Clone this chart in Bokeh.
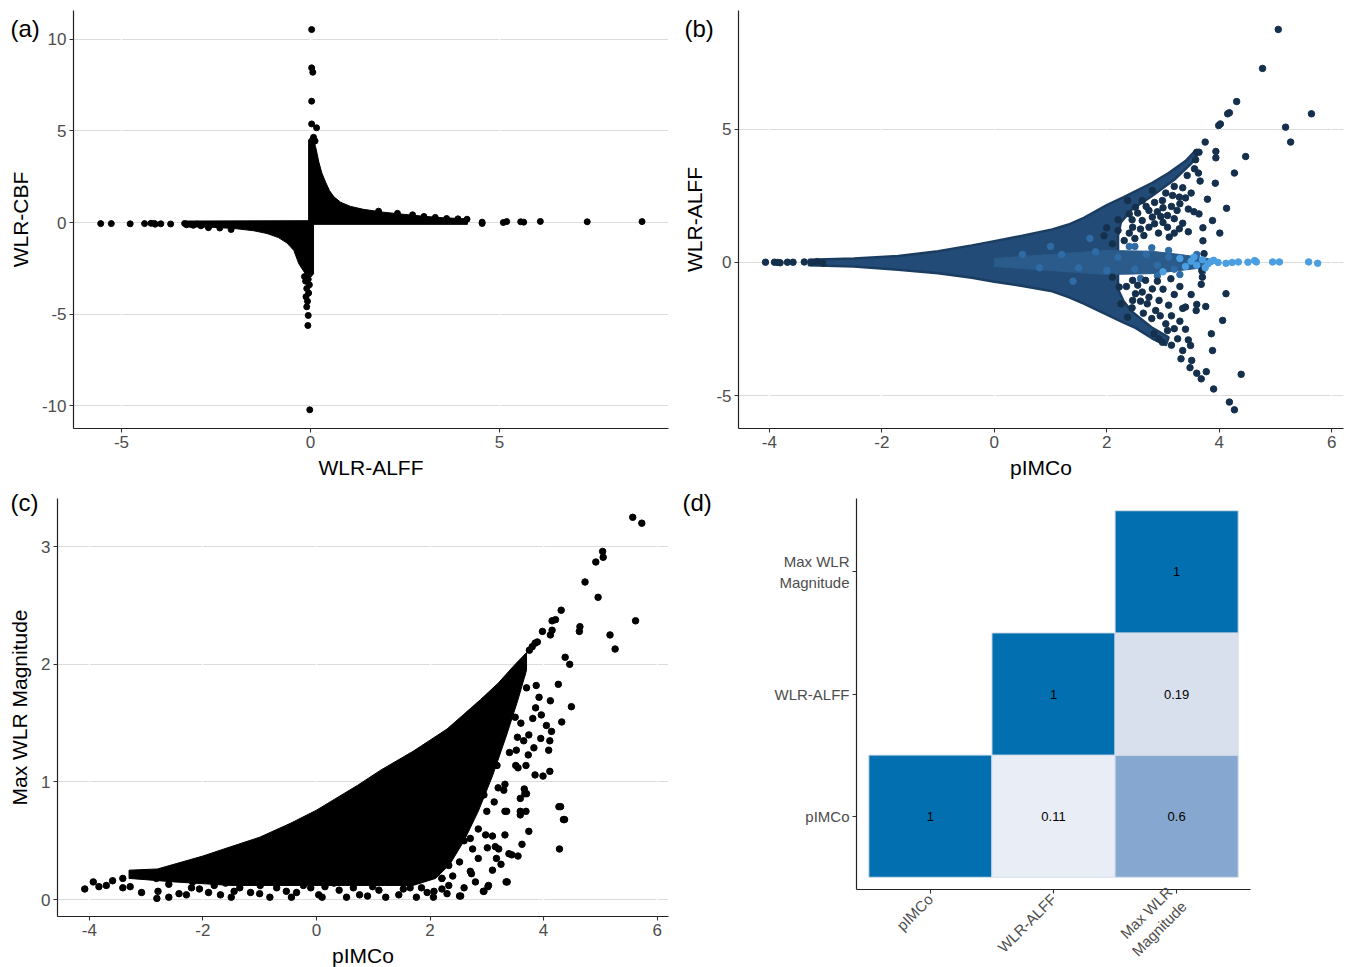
import math
from bokeh.plotting import figure
from bokeh.layouts import column, row
from bokeh.models import (Range1d, FixedTicker, Title, LinearColorMapper, ColumnDataSource,
                          CustomJSTickFormatter)
from bokeh.transform import transform
from bokeh.core.properties import value
from bokeh.embed import file_html
from bokeh.resources import INLINE

FONT = "Liberation Sans"
TICK_COLOR = "#4d4d4d"

# ---------------- data: panel (a) WLR-ALFF vs WLR-CBF ----------------
A_XTICKS = [-5, 0, 5]
A_YTICKS = [-10, -5, 0, 5, 10]
# envelope of the dense cloud (visual extent)
A_UP_X = [-0.05, -0.05, 0.05, 0.15, 0.22, 0.30, 0.40, 0.50, 0.62, 0.80, 1.06, 1.40, 1.94, 2.50, 3.00, 3.50, 4.15, 4.15]
A_UP_Y = [-0.10, 4.50, 4.75, 4.00, 3.30, 2.70, 2.20, 1.75, 1.40, 1.10, 0.88, 0.72, 0.56, 0.44, 0.34, 0.26, 0.20, -0.10]
A_LO_X = [0.08, 0.08, 0.00, -0.10, -0.20, -0.31, -0.44, -0.62, -0.85, -1.15, -1.50, -2.00, -2.50, -2.90, -3.30, -3.30]
A_LO_Y = [0.10, -2.80, -3.00, -2.90, -2.60, -2.25, -1.53, -1.12, -0.82, -0.60, -0.45, -0.33, -0.27, -0.24, -0.20, 0.08]
A_PTS = [(0.03, 10.53), (0.03, 8.44), (0.06, 8.20), (0.03, 6.62), (0.03, 5.38), (0.16, 5.17), (0.08, 4.65),
         (0.05, 4.35), (0.12, 4.45),
         (-0.06, -5.07), (-0.07, -5.62), (-0.02, -10.22), (-0.10, -4.60), (-0.08, -4.30), (-0.12, -4.05),
         (-0.05, -3.85), (-0.10, -3.60), (-0.03, -3.40), (-0.13, -3.20), (-0.06, -3.10), (-0.16, -2.95),
         (-5.55, -0.06), (-5.27, -0.06), (-4.77, -0.07), (-4.39, -0.06), (-4.22, -0.04), (-4.13, -0.05),
         (-4.11, -0.09), (-3.96, -0.07), (-3.70, -0.08), (-3.33, -0.05), (-3.28, -0.12), (-3.18, -0.10),
         (-3.10, -0.15), (-3.00, -0.08), (-2.90, -0.18), (-2.70, -0.28), (-2.40, -0.30), (-2.10, -0.38),
         (4.14, 0.18), (4.54, 0.02), (4.54, -0.05), (5.10, 0.00), (5.19, 0.05), (5.56, 0.04), (5.64, 0.02),
         (6.08, 0.06), (7.32, 0.04), (8.77, 0.05), (3.90, 0.20), (3.60, 0.22), (3.30, 0.28), (3.00, 0.33),
         (2.70, 0.42), (2.30, 0.50), (1.80, 0.62)]

# ---------------- data: panel (b) pIMCo vs WLR-ALFF ----------------
B_XTICKS = [-4, -2, 0, 2, 4, 6]
B_YTICKS = [-5, 0, 5]
# outline of the dense fan (outer edges plus the sparser notch on its right)
B_FAN_X = [-3.30, -2.50, -1.71, -1.00, -0.40, 0.00, 0.50, 1.03, 1.32, 1.60, 2.00, 2.30, 2.81, 3.10, 3.40,
           3.58, 3.65, 3.50, 3.20, 2.81, 2.45, 2.25, 2.20, 2.20, 2.30, 2.45, 2.81, 3.10, 3.05, 2.81, 2.51,
           2.30, 2.00, 1.60, 1.32, 1.03, 0.50, 0.00, -0.40, -1.00, -1.71, -2.50, -3.30]
B_FAN_Y = [0.10, 0.15, 0.24, 0.42, 0.64, 0.80, 1.00, 1.24, 1.42, 1.68, 2.15, 2.45, 2.98, 3.35, 3.80,
           4.20, 4.15, 3.70, 3.10, 2.50, 2.00, 1.50, 1.00, -1.00, -1.45, -1.85, -2.45, -2.80, -3.10, -2.85, -2.45,
           -2.25, -1.95, -1.55, -1.30, -1.08, -0.88, -0.72, -0.57, -0.40, -0.27, -0.15, -0.10]
B_CEN_X = [0.00, 1.00, 2.00, 2.80, 3.30, 3.80, 3.90, 3.80, 3.30, 2.80, 2.00, 1.00, 0.00]
B_CEN_Y = [0.15, 0.30, 0.45, 0.42, 0.30, 0.15, 0.00, -0.18, -0.30, -0.42, -0.45, -0.30, -0.15]
B_DARK = [(-4.07, 0.01), (-3.91, 0.01), (-3.85, 0.00), (-3.81, -0.01), (-3.68, 0.01), (-3.58, 0.01),
          (-3.38, 0.02), (-3.25, 0.00), (-3.15, 0.03), (-3.05, -0.02),
          (5.05, 8.73), (4.77, 7.27), (4.31, 6.03), (4.15, 5.57), (4.18, 5.61), (3.99, 5.13), (4.02, 5.19),
          (5.64, 5.57), (5.18, 5.07), (5.27, 4.51), (3.75, 4.51), (3.60, 4.13), (3.64, 4.13), (3.94, 4.16),
          (3.94, 3.92), (4.47, 3.97), (3.58, 3.85), (3.56, 3.51), (3.63, 3.35), (3.66, 3.05), (4.27, 3.35),
          (3.93, 2.97), (3.79, 2.37), (4.13, 2.03), (3.64, 1.82), (3.88, 1.57), (3.71, 1.30), (4.01, 1.10),
          (3.71, 0.81), (3.73, 0.33),
          (2.37, 2.32), (2.40, 1.82), (2.63, 1.57), (2.81, 1.70), (2.96, 1.72), (3.08, 1.76), (3.20, 1.64),
          (3.35, 1.47), (3.29, 1.26), (3.08, 1.32), (3.11, 0.95), (2.92, 1.10), (2.75, 1.32), (2.66, 1.01),
          (2.46, 1.32), (2.31, 0.82), (2.10, 0.70), (2.99, 2.32), (3.17, 2.51), (3.29, 2.45), (3.40, 2.42),
          (2.81, 2.70), (2.63, 2.32), (2.75, 1.95), (2.51, 2.07), (3.43, 3.26), (2.20, 1.60), (2.00, 1.30),
          (1.95, 1.00),
          (2.45, 1.60), (2.55, 1.85), (2.70, 2.10), (2.85, 2.25), (2.90, 1.90), (3.00, 2.05), (3.15, 2.10),
          (3.25, 1.95), (3.30, 2.20), (3.45, 2.00), (3.50, 2.60), (3.35, 2.80), (3.20, 2.85), (3.05, 2.60),
          (2.60, 1.25), (2.85, 1.45), (3.00, 1.50), (2.50, 0.90), (2.40, 1.10), (2.20, 1.20), (3.20, 1.10),
          (3.45, 1.15), (3.55, 1.90),
          (3.70, -0.55), (3.68, -0.82), (4.12, -1.17), (3.60, -1.57), (3.59, -1.80), (3.76, -1.65),
          (3.35, -1.72), (3.40, -1.67), (4.06, -2.17), (3.86, -2.67), (3.88, -3.30), (3.49, -3.11),
          (4.39, -4.19), (3.32, -3.61), (3.51, -3.67), (3.48, -3.94), (3.60, -4.15), (3.68, -4.36),
          (3.77, -4.09), (3.90, -4.74), (4.18, -5.23), (4.27, -5.52), (3.14, -0.61), (3.69, -0.30),
          (2.10, -0.55), (2.22, -0.92), (2.46, -0.67), (2.69, -0.67), (2.51, -1.17), (2.63, -1.11),
          (2.81, -0.99), (2.93, -1.42), (2.72, -1.55), (2.87, -1.80), (3.05, -2.30), (3.20, -2.48),
          (3.08, -2.55), (3.26, -2.86), (2.84, -2.67), (2.93, -2.86), (2.99, -2.99), (2.37, -2.05),
          (2.46, -1.42), (2.25, -1.55),
          (2.35, -0.90), (2.55, -0.85), (2.75, -1.30), (2.60, -1.45), (2.45, -1.70), (2.65, -1.90),
          (2.80, -2.10), (2.95, -2.00), (3.10, -1.60), (3.15, -2.00), (3.30, -2.20), (3.40, -2.50),
          (3.20, -1.20), (3.00, -1.00), (2.90, -0.70), (3.30, -0.90), (3.50, -1.20), (3.45, -2.90),
          (3.35, -3.30), (3.15, -3.10)]
B_MID = [(1.2, 0.3), (1.5, -0.2), (1.8, 0.4), (2.0, -0.3), (2.2, 0.2), (2.5, -0.25), (2.7, 0.3), (2.9, -0.1),
         (3.1, 0.2), (3.2, -0.25), (0.8, -0.2), (0.5, 0.3), (1.0, 0.6), (1.4, -0.7), (1.7, 0.9), (2.4, 0.6),
         (2.5, 0.60), (2.8, 0.55), (3.1, 0.45), (2.6, -0.60), (2.9, -0.50), (3.3, -0.45), (3.6, 0.30),
         (3.7, -0.35)]
B_LIGHT = [(3.98, 0.00), (4.12, -0.03), (4.23, 0.00), (4.34, 0.02), (4.51, 0.01), (4.63, 0.07), (4.66, 0.02),
           (4.95, 0.02), (5.07, 0.02), (5.59, 0.02), (5.75, -0.03), (3.00, -0.35), (3.50, 0.05), (3.60, -0.10),
           (3.70, 0.10), (3.80, -0.05), (3.85, 0.03), (3.30, 0.15), (3.40, -0.15), (3.55, 0.20), (3.90, 0.08),
           (3.75, -0.20)]

# ---------------- data: panel (c) pIMCo vs Max WLR Magnitude ----------------
C_XTICKS = [-4, -2, 0, 2, 4, 6]
C_YTICKS = [0, 1, 2, 3]
C_ENV_X = [-3.30, -2.80, -2.00, -1.63, -1.00, -0.45, 0.00, 0.72, 1.13, 1.70, 2.30, 2.89, 3.20, 3.48, 3.70,
           3.70, 3.55, 3.35, 3.10, 2.85, 2.60, 2.35, 2.10, 1.70, 1.20, 0.50, -0.50, -1.50, -2.50, -3.30]
C_ENV_Y = [0.25, 0.26, 0.37, 0.43, 0.53, 0.65, 0.76, 0.97, 1.10, 1.26, 1.45, 1.70, 1.84, 1.99, 2.10,
           1.95, 1.70, 1.40, 1.05, 0.75, 0.50, 0.30, 0.18, 0.12, 0.12, 0.12, 0.12, 0.12, 0.15, 0.18]
C_PTS = [(-4.08, 0.09), (-3.93, 0.15), (-3.83, 0.11), (-3.70, 0.12), (-3.59, 0.16), (-3.41, 0.10), (-3.41, 0.18),
         (-3.28, 0.11), (-3.08, 0.06), (-2.98, 0.22), (-2.81, 0.01), (-2.79, 0.07), (-2.60, 0.13), (-2.42, 0.05),
         (-2.29, 0.04), (-2.18, 0.15), (-2.06, 0.09), (-2.02, 0.24), (-1.91, 0.18), (-1.69, 0.04), (-1.60, 0.14),
         (-1.45, 0.07), (-1.30, 0.16), (-1.16, 0.06), (-0.99, 0.12), (-0.82, 0.02), (-0.69, 0.22), (-0.53, 0.07),
         (-0.44, 0.02), (-0.23, 0.12), (0.04, 0.04), (0.15, 0.11), (0.31, 0.14), (0.53, 0.02), (0.76, 0.04),
         (0.99, 0.11), (1.22, 0.02), (1.34, 0.16), (1.53, 0.09), (1.76, 0.02), (1.95, 0.06), (2.06, 0.02),
         (2.21, 0.09), (2.33, 0.12), (2.52, 0.03), (2.71, 0.24), (2.94, 0.07), (3.02, 0.11), (3.34, 0.15),
         (2.21, 0.18), (1.76, 0.18), (2.52, 0.32), (2.75, 0.43), (2.98, 0.55), (3.21, 0.43), (3.32, 0.55),
         (3.44, 0.38), (3.59, 0.72), (3.32, 0.75), (3.13, 0.83), (3.66, 0.94), (3.85, 1.06), (3.51, 1.14),
         (3.70, 0.90), (4.27, 0.79), (4.35, 0.68), (-2.82, 0.18), (-2.50, 0.18), (-1.80, 0.12),
         (2.40, 0.20), (2.60, 0.50), (2.85, 0.60), (3.00, 0.75), (3.20, 0.95), (3.40, 1.25), (3.60, 1.50),
         (-2.60, 0.02), (-2.20, 0.10), (-1.90, 0.06), (-1.50, 0.02), (-1.35, 0.10), (-1.00, 0.05), (-0.70, 0.10),
         (-0.35, 0.06), (-0.10, 0.10), (0.10, 0.02), (0.40, 0.08), (0.65, 0.10), (0.90, 0.03), (1.10, 0.08),
         (1.45, 0.04), (1.65, 0.10), (1.85, 0.10), (2.30, 0.05), (2.60, 0.10), (2.80, 0.15), (3.10, 0.25),
         (3.25, 0.30),
         (5.57, 3.25), (5.73, 3.20), (5.04, 2.96), (5.05, 2.91), (4.92, 2.87), (4.73, 2.70), (4.96, 2.57),
         (4.64, 2.32), (4.63, 2.28), (5.62, 2.37), (5.17, 2.25), (5.26, 2.13), (4.38, 2.06), (4.46, 2.00),
         (4.26, 1.83), (4.49, 1.64), (4.12, 1.69), (4.32, 1.51), (4.09, 1.27), (3.99, 1.05), (4.11, 1.09),
         (4.30, 0.79), (4.37, 0.68), (4.28, 0.43), (3.36, 0.15), (3.03, 0.12), (2.95, 0.07), (2.54, 0.03),
         (3.89, 2.19), (3.98, 2.28), (4.15, 2.37), (4.21, 2.38), (4.31, 2.46), (4.12, 2.25), (4.15, 2.29),
         (3.75, 2.12), (3.80, 2.15), (3.85, 2.18),
         (3.87, 1.82), (3.92, 1.72), (3.86, 1.63), (3.96, 1.57), (3.81, 1.54), (4.11, 1.35), (4.05, 1.48),
         (4.14, 1.43), (3.95, 1.37), (3.74, 1.40), (3.65, 1.35), (3.54, 1.38), (3.52, 1.27), (3.83, 1.29),
         (3.73, 1.23), (3.69, 1.14), (3.55, 1.12), (3.67, 0.90), (3.59, 0.86), (3.69, 0.75), (3.59, 0.75),
         (3.74, 0.58), (3.62, 0.47), (3.55, 0.37), (3.39, 0.39), (3.35, 0.75), (3.17, 0.35), (2.85, 0.35),
         (2.73, 0.22), (3.01, 0.44), (3.10, 0.54), (3.15, 0.45), (3.32, 0.98), (3.30, 0.93),
         (2.89, 1.03), (2.95, 0.89), (2.68, 0.66), (2.48, 0.55), (2.33, 0.29),
         (2.21, 0.18), (2.07, 0.07), (2.71, 0.52), (3.18, 1.14), (3.07, 1.23), (3.12, 1.40),
         (3.30, 1.57), (3.36, 1.65), (3.43, 1.80), (3.62, 1.92), (3.70, 1.80), (3.50, 1.55)]

# ---------------- data: panel (d) correlation matrix ----------------
D_LABELS = ["pIMCo", "WLR-ALFF", "Max WLR\nMagnitude"]
D_COL = [1, 2, 3, 2, 3, 3]
D_ROW = [1, 1, 1, 2, 2, 3]
D_VAL = [1.0, 0.11, 0.6, 1.0, 0.19, 1.0]
D_TXT = ["1", "0.11", "0.6", "1", "0.19", "1"]


def make_fig(fw, fh, left, right, top, bottom, xr, yr):
    p = figure(frame_width=fw, frame_height=fh,
               x_range=Range1d(*xr), y_range=Range1d(*yr),
               output_backend="svg", toolbar_location=None,
               min_border_left=left, min_border_right=right,
               min_border_top=top, min_border_bottom=bottom)
    p.outline_line_color = None
    p.background_fill_color = "white"
    p.border_fill_color = "white"
    return p


def style_axes(p, xticks, yticks, xlabel, ylabel, tick_size="17px", label_size="21px", grid=True):
    p.xaxis.ticker = FixedTicker(ticks=xticks)
    p.yaxis.ticker = FixedTicker(ticks=yticks)
    p.xaxis.axis_label = xlabel
    p.yaxis.axis_label = ylabel
    for ax in (p.xaxis[0], p.yaxis[0]):
        ax.axis_line_color = "#222222"
        ax.axis_line_width = 1.2
        ax.major_tick_line_color = "#333333"
        ax.major_tick_line_width = 1.1
        ax.major_tick_out = 4
        ax.major_tick_in = 0
        ax.minor_tick_line_color = None
        ax.major_label_text_font = FONT
        ax.major_label_text_font_size = tick_size
        ax.major_label_text_color = TICK_COLOR
        ax.axis_label_text_font = FONT
        ax.axis_label_text_font_size = label_size
        ax.axis_label_text_font_style = "normal"
        ax.axis_label_text_color = "black"
        ax.major_label_standoff = 3
        ax.axis_label_standoff = 5
    p.yaxis[0].axis_label_standoff = 7
    gx = p.xgrid[0]
    gy = p.ygrid[0]
    if grid:
        p.xaxis[0].formatter = CustomJSTickFormatter(code="return tick.toString()")
        p.yaxis[0].formatter = CustomJSTickFormatter(code="return tick.toString()")
        gx.grid_line_color = "white"
        gx.grid_line_width = 1.5
        gy.grid_line_color = "#dcdcdc"
        gy.grid_line_width = 1.2
        p.center = [gy, gx]
    else:
        gx.visible = False
        gy.visible = False


def tag(p, text, offset, standoff):
    t = Title(text=text, align="left", offset=offset, standoff=standoff,
              text_font=FONT, text_font_size="24px", text_font_style="normal",
              text_color="black", vertical_align="bottom")
    p.add_layout(t, "above")


def xs(pts):
    return [q[0] for q in pts]


def ys(pts):
    return [q[1] for q in pts]


# ---------------- panel (a) ----------------
pa = make_fig(595, 418, 73, 12, 10, 52, (-6.27, 9.47), (-11.24, 11.57))
style_axes(pa, A_XTICKS, A_YTICKS, "WLR-ALFF", "WLR-CBF")
pa.patch(A_UP_X, A_UP_Y, fill_color="black", line_color="black", line_width=1)
pa.patch(A_LO_X, A_LO_Y, fill_color="black", line_color="black", line_width=1)
pa.scatter(xs(A_PTS), ys(A_PTS), size=6, color="black")
tag(pa, "(a)", -63, -62)

# ---------------- panel (b) ----------------
pb = make_fig(605, 418, 56, 8, 10, 52, (-4.55, 6.21), (-6.22, 9.44))
style_axes(pb, B_XTICKS, B_YTICKS, "pIMCo", "WLR-ALFF")
pb.patch(B_FAN_X, B_FAN_Y, fill_color="#224c77", line_color="#1b3d61", line_width=2.5)
pb.patch(B_CEN_X, B_CEN_Y, fill_color="#2a5b8b", line_color="#2a5b8b", line_width=1)
pb.scatter(xs(B_MID), ys(B_MID), size=6.5, color="#2f6ca5")
pb.scatter(xs(B_DARK), ys(B_DARK), size=6.5, color="#15304c")
pb.scatter(xs(B_LIGHT), ys(B_LIGHT), size=6.5, color="#4a9ee2")
tag(pb, "(b)", -54, -62)

# ---------------- panel (c) ----------------
pc = make_fig(611, 418, 57, 12, 17, 52, (-4.56, 6.20), (-0.144, 3.41))
style_axes(pc, C_XTICKS, C_YTICKS, "pIMCo", "Max WLR Magnitude")
pc.patch(C_ENV_X, C_ENV_Y, fill_color="black", line_color="black", line_width=1)
pc.scatter(xs(C_PTS), ys(C_PTS), size=6.5, color="black")
tag(pc, "(c)", -47, -34)

# ---------------- panel (d) ----------------
anchors = [(0.0, (244, 246, 251)), (0.11, (232, 237, 246)), (0.19, (216, 224, 238)),
           (0.6, (134, 168, 208)), (1.0, (2, 112, 176))]
palette = []
for i in range(256):
    t = i / 255
    for (t0, c0), (t1, c1) in zip(anchors[:-1], anchors[1:]):
        if t0 <= t <= t1:
            f = (t - t0) / (t1 - t0)
            rgb = tuple(round(c0[k] + f * (c1[k] - c0[k])) for k in range(3))
            palette.append("#%02x%02x%02x" % rgb)
            break
mapper = LinearColorMapper(palette=palette, low=0, high=1)

pd_ = make_fig(394, 391, 176, 99, 17, 79, (0.4, 3.6), (0.4, 3.6))
style_axes(pd_, [1, 2, 3], [1, 2, 3], "", "", tick_size="15px", grid=False)
pd_.xaxis.major_label_overrides = {i + 1: lab for i, lab in enumerate(D_LABELS)}
pd_.yaxis.major_label_overrides = {i + 1: lab for i, lab in enumerate(D_LABELS)}
pd_.xaxis.major_label_orientation = math.pi / 4
src = ColumnDataSource(dict(x=D_COL, y=D_ROW, v=D_VAL, t=D_TXT))
pd_.rect(x="x", y="y", width=1, height=1, source=src,
         fill_color=transform("v", mapper), line_color="#d6dfeb", line_width=1)
pd_.text(x="x", y="y", text="t", source=src, text_font=value(FONT), text_font_size="13px",
         text_align="center", text_baseline="middle", text_color="black")
tag(pd_, "(d)", -174, -34)

layout = column(row(pa, pb), row(pc, pd_))
open("out.html", "w").write(file_html(layout, INLINE))
